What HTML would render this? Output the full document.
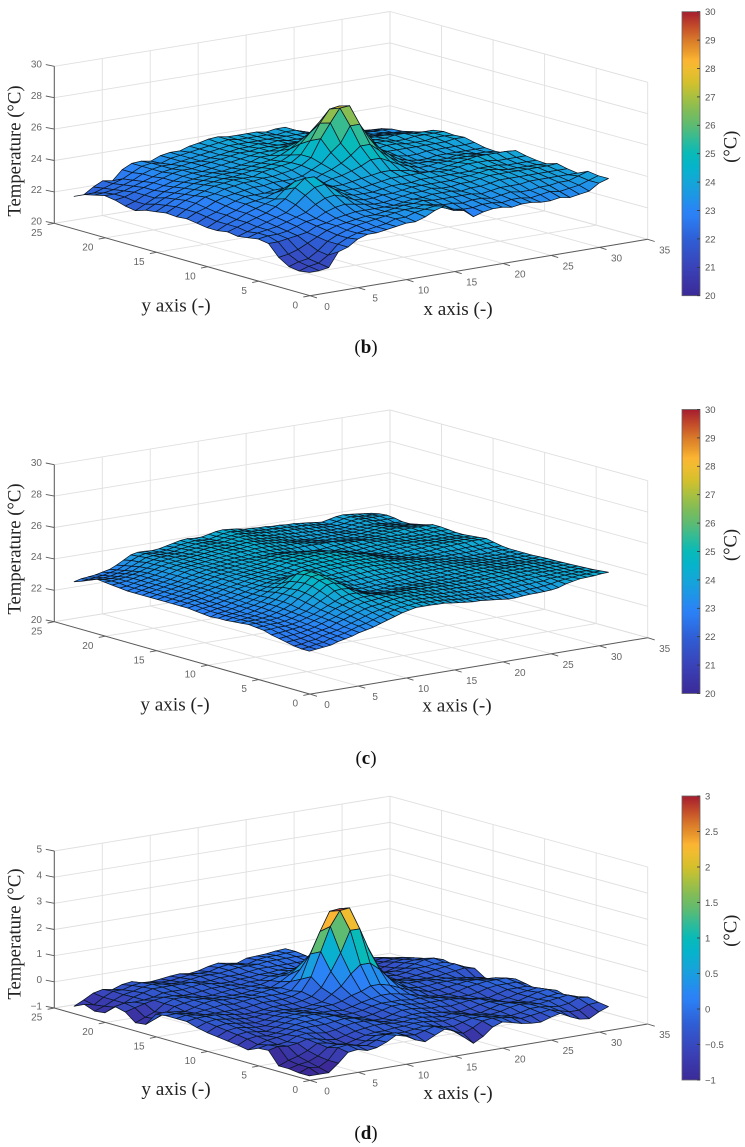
<!DOCTYPE html>
<html lang="en">
<head>
<meta charset="utf-8">
<title>Temperature surface plots</title>
<style>
html,body{margin:0;padding:0;background:#fff;width:745px;height:1147px;overflow:hidden}
svg{display:block;filter:blur(0.35px)}
.tick{font-family:"Liberation Sans",sans-serif;font-size:10px;fill:#666}
.cbtick{font-family:"Liberation Sans",sans-serif;font-size:9.5px;fill:#555}
.title{font-family:"Liberation Serif",serif;font-size:19.2px;fill:#222}
.ztitle{font-family:"Liberation Serif",serif;font-size:18.7px;fill:#222}
.cbtitle{font-family:"Liberation Serif",serif;font-size:18.5px;fill:#222}
.cap{font-family:"Liberation Serif",serif;font-size:19px;fill:#111}
</style>
</head>
<body>
<svg id="figure" xmlns="http://www.w3.org/2000/svg" width="745" height="1147" viewBox="0 0 745 1147">
<defs id="defs"></defs>
<g id="panel-b"></g>
<g id="panel-c"></g>
<g id="panel-d"></g>

<text class="ztitle" text-anchor="middle" transform="translate(20.7 151) rotate(-90)">Temperature (°C)</text>
<text class="title" text-anchor="middle" x="176" y="311.5">y axis (-)</text>
<text class="title" text-anchor="middle" x="458" y="315">x axis (-)</text>
<text class="cbtitle" text-anchor="middle" transform="translate(736.7 146.7) rotate(-90)">(°C)</text>
<text class="cap" text-anchor="middle" x="366" y="353">(<tspan font-weight="bold">b</tspan>)</text>

<text class="ztitle" text-anchor="middle" transform="translate(20.7 549) rotate(-90)">Temperature (°C)</text>
<text class="title" text-anchor="middle" x="175" y="710.7">y axis (-)</text>
<text class="title" text-anchor="middle" x="457" y="711.7">x axis (-)</text>
<text class="cbtitle" text-anchor="middle" transform="translate(736.7 545) rotate(-90)">(°C)</text>
<text class="cap" text-anchor="middle" x="366" y="764">(<tspan font-weight="bold">c</tspan>)</text>

<text class="ztitle" text-anchor="middle" transform="translate(20.7 934) rotate(-90)">Temperature (°C)</text>
<text class="title" text-anchor="middle" x="176" y="1095">y axis (-)</text>
<text class="title" text-anchor="middle" x="458" y="1099">x axis (-)</text>
<text class="cbtitle" text-anchor="middle" transform="translate(736.7 930.7) rotate(-90)">(°C)</text>
<text class="cap" text-anchor="middle" x="366" y="1139">(<tspan font-weight="bold">d</tspan>)</text>
</svg>
<script>
const xTicks = [0,5,10,15,20,25,30,35];
const yTicks = [0,5,10,15,20,25];
const zTicksTemp = [20,22,24,26,28,30];
const zTicksDelta = [-1,0,1,2,3,4,5];
const colorTicksTemp = [20,21,22,23,24,25,26,27,28,29,30];
const colorTicksDelta = [-1,-0.5,0,0.5,1,1.5,2,2.5,3];

const tempRowsB = [
[21.2,21.2,21.3,22.2,22.4,22.8,23.0,23.0,23.1,23.2,23.3,23.3,23.5,23.8,24.0,23.6,23.5,23.0,23.2,23.3,23.3,23.2,23.3,23.3,23.2,23.2,23.3,23.2,23.3,23.4,23.8,24.0],
[21.1,21.3,21.4,21.8,22.4,22.7,22.9,23.0,23.1,23.2,23.4,23.4,23.6,23.7,23.8,23.6,23.4,23.3,23.3,23.4,23.4,23.3,23.4,23.4,23.3,23.4,23.5,23.4,23.5,23.6,23.8,24.0],
[21.2,21.4,21.5,21.9,22.4,22.7,22.9,23.1,23.2,23.3,23.4,23.5,23.6,23.6,23.7,23.6,23.5,23.5,23.4,23.5,23.5,23.4,23.5,23.6,23.5,23.5,23.6,23.6,23.7,23.7,23.9,24.1],
[21.6,21.7,21.9,22.2,22.5,22.8,23.0,23.1,23.2,23.3,23.3,23.4,23.5,23.6,23.6,23.7,23.6,23.6,23.6,23.6,23.6,23.5,23.6,23.7,23.7,23.7,23.8,23.8,23.8,23.8,23.8,23.8],
[22.3,22.3,22.4,22.5,22.6,22.9,23.0,23.2,23.3,23.4,23.4,23.4,23.4,23.4,23.5,23.6,23.6,23.7,23.7,23.7,23.6,23.7,23.7,23.8,23.9,23.9,23.9,23.9,23.9,23.9,23.9,23.9],
[22.4,22.5,22.5,22.6,22.8,23.0,23.1,23.4,23.6,23.7,23.6,23.5,23.4,23.4,23.5,23.6,23.7,23.7,23.8,23.7,23.7,23.8,23.8,23.9,24.0,24.0,24.0,24.0,24.0,24.0,24.0,24.05],
[22.3,22.5,22.6,22.7,22.9,23.1,23.3,23.7,24.0,24.1,23.9,23.6,23.5,23.5,23.6,23.6,23.7,23.8,23.8,23.8,23.8,23.8,23.9,23.9,24.0,24.1,24.0,23.9,23.9,23.9,23.9,23.85],
[22.2,22.4,22.6,22.8,23.0,23.2,23.6,24.1,24.5,24.6,24.2,23.8,23.6,23.6,23.6,23.7,23.8,23.8,23.8,23.9,23.9,23.9,23.9,23.9,23.9,24.0,24.0,24.0,23.9,23.9,23.9,23.9],
[22.3,22.5,22.7,22.9,23.1,23.4,23.8,24.4,24.9,24.9,24.4,23.9,23.7,23.7,23.7,23.8,23.9,24.0,24.0,24.0,24.0,24.0,23.9,23.9,24.0,24.1,24.1,24.1,24.0,24.0,24.0,24.0],
[22.2,22.5,22.7,23.0,23.2,23.4,23.6,24.1,24.5,24.5,24.1,23.8,23.8,23.8,23.9,24.0,24.1,24.2,24.2,24.1,24.0,23.8,23.7,23.8,23.9,24.0,24.1,24.2,24.2,24.2,24.2,24.15],
[22.2,22.5,22.8,23.0,23.3,23.4,23.5,23.7,23.9,23.9,23.8,23.7,23.8,24.0,24.1,24.3,24.5,24.8,24.8,24.5,24.2,24.0,23.8,23.8,23.9,23.9,24.0,24.0,24.0,23.9,23.9,23.8],
[22.3,22.6,22.8,23.1,23.3,23.5,23.5,23.5,23.6,23.6,23.7,23.7,23.8,24.1,24.3,24.6,25.0,25.5,25.5,25.0,24.5,24.1,23.9,23.8,23.8,23.8,23.8,23.9,23.9,23.8,23.8,23.75],
[22.4,22.7,22.9,23.2,23.4,23.5,23.6,23.7,23.7,23.8,23.8,23.8,23.9,24.2,24.5,25.1,25.6,26.6,26.6,25.6,24.9,24.4,24.0,23.8,23.7,23.7,23.8,23.8,23.8,23.8,23.8,23.8],
[22.35,22.7,23.0,23.3,23.4,23.6,23.7,23.8,23.8,23.9,23.9,24.0,24.1,24.3,24.7,25.8,26.7,27.55,27.6,26.3,25.5,24.6,24.1,23.9,23.8,23.8,23.9,23.9,23.9,23.9,23.9,23.95],
[22.4,22.7,23.0,23.2,23.4,23.6,23.7,23.8,23.8,23.8,24.0,24.1,24.2,24.3,24.7,25.5,26.5,27.3,27.4,26.6,25.5,24.6,24.1,24.0,24.0,24.0,24.0,24.0,24.0,24.0,24.1,24.1],
[22.3,22.6,22.9,23.1,23.3,23.5,23.6,23.7,23.7,23.8,23.9,24.0,24.1,24.2,24.5,25.1,25.7,26.3,26.3,25.7,25.0,24.4,24.0,24.0,24.1,24.1,24.0,24.0,24.0,24.1,24.1,24.05],
[22.2,22.5,22.8,23.0,23.2,23.4,23.5,23.6,23.7,23.7,23.8,23.9,24.0,24.1,24.3,24.6,25.0,25.4,25.4,25.0,24.5,24.2,24.0,24.1,24.1,24.1,24.0,24.0,24.1,24.1,24.1,24.1],
[22.0,22.3,22.6,22.9,23.1,23.3,23.4,23.5,23.6,23.6,23.7,23.8,23.9,24.1,24.1,24.3,24.5,24.7,24.7,24.5,24.3,24.1,24.0,24.1,24.0,24.0,24.0,24.1,24.1,24.0,24.0,24.0],
[22.1,22.3,22.6,22.8,23.0,23.2,23.4,23.5,23.5,23.6,23.7,23.8,23.9,24.0,24.1,24.1,24.2,24.3,24.3,24.2,24.1,24.0,24.0,24.0,23.9,23.9,23.9,23.9,23.9,23.8,23.8,23.7],
[22.3,22.4,22.6,22.8,23.0,23.2,23.4,23.5,23.5,23.6,23.7,23.8,23.9,24.0,24.0,24.1,24.1,24.1,24.1,24.1,24.1,24.0,24.0,23.9,23.8,23.7,23.7,23.7,23.7,23.7,23.6,23.55],
[22.4,22.4,22.5,22.7,22.9,23.1,23.3,23.4,23.5,23.6,23.6,23.7,23.8,23.9,24.0,24.0,24.1,24.0,24.1,24.0,24.0,24.0,23.9,23.8,23.7,23.6,23.6,23.5,23.5,23.5,23.4,23.4],
[22.25,22.3,22.4,22.6,22.8,23.1,23.3,23.4,23.4,23.5,23.6,23.7,23.8,23.9,24.0,24.0,24.0,24.0,24.0,24.0,24.0,24.0,24.0,23.8,23.6,23.5,23.5,23.4,23.4,23.4,23.4,23.35],
[22.1,22.1,22.3,22.5,22.7,23.0,23.3,23.4,23.3,23.5,23.6,23.7,23.8,23.9,24.0,24.1,24.0,24.0,24.0,24.0,23.9,24.0,24.0,23.8,23.6,23.4,23.3,23.3,23.3,23.2,23.2,23.2],
[21.8,21.8,22.2,22.5,22.4,23.0,23.3,23.35,23.25,23.5,23.6,23.6,23.8,23.9,24.05,24.1,24.0,24.0,24.0,24.0,23.9,24.0,24.0,23.7,23.5,23.3,23.2,23.1,23.0,23.0,23.0,22.95]
];

const tempRowsC = [
[22.45,22.5,22.55,22.6,22.75,22.85,22.95,23.1,23.2,23.3,23.45,23.6,23.75,23.9,24,24.1,24.1,24.1,24.08,24.07,24,23.95,23.9,23.85,23.85,23.8,23.75,23.7,23.65,23.65,23.7,23.73,23.73,23.75,23.78,23.85,24,24.1,24.18,24.2,24.22,24.27,24.3],
[22.45,22.5,22.6,22.65,22.8,22.9,23,23.15,23.3,23.4,23.55,23.7,23.85,23.95,24.05,24.1,24.15,24.15,24.1,24.1,24.05,24,23.95,23.9,23.9,23.85,23.8,23.8,23.75,23.75,23.8,23.8,23.85,23.85,23.9,23.95,24.05,24.1,24.15,24.2,24.2,24.25,24.25],
[22.5,22.55,22.65,22.7,22.85,22.95,23.05,23.2,23.35,23.5,23.65,23.8,23.9,24,24.1,24.15,24.2,24.2,24.15,24.15,24.1,24.05,24,24,23.95,23.9,23.9,23.85,23.85,23.85,23.9,23.9,23.95,23.95,24,24,24.1,24.1,24.15,24.15,24.2,24.2,24.2],
[22.6,22.65,22.7,22.8,22.9,23,23.1,23.3,23.45,23.6,23.75,23.9,24,24.05,24.15,24.2,24.25,24.25,24.2,24.2,24.15,24.1,24.05,24.05,24,24,23.95,23.95,23.95,23.95,24,24,24,24.05,24.05,24.1,24.1,24.1,24.15,24.15,24.15,24.2,24.18],
[22.7,22.75,22.8,22.85,22.95,23.05,23.2,23.35,23.5,23.7,23.85,24,24.1,24.15,24.2,24.25,24.25,24.25,24.25,24.2,24.2,24.15,24.1,24.1,24.05,24.05,24,24,24,24,24.05,24.05,24.1,24.1,24.1,24.1,24.15,24.15,24.15,24.15,24.15,24.15,24.16],
[22.8,22.85,22.9,22.95,23,23.1,23.25,23.4,23.6,23.8,23.95,24.1,24.2,24.25,24.25,24.25,24.2,24.2,24.2,24.2,24.2,24.15,24.15,24.1,24.1,24.05,24.05,24.05,24.05,24.05,24.1,24.1,24.1,24.15,24.15,24.15,24.15,24.15,24.15,24.15,24.15,24.15,24.14],
[22.95,22.95,23,23,23.05,23.15,23.3,23.45,23.65,23.85,24.05,24.25,24.35,24.35,24.25,24.15,24.1,24.05,24.05,24.1,24.1,24.1,24.1,24.1,24.1,24.05,24.05,24.05,24.05,24.1,24.1,24.1,24.15,24.15,24.15,24.15,24.15,24.15,24.15,24.15,24.15,24.15,24.12],
[23,23,23.05,23.05,23.1,23.2,23.35,23.5,23.75,24,24.25,24.5,24.55,24.5,24.3,24.1,24,23.95,23.95,24,24,24,24.05,24.05,24.05,24.05,24.05,24.05,24.05,24.1,24.1,24.15,24.15,24.15,24.15,24.15,24.15,24.15,24.15,24.15,24.1,24.1,24.1],
[23.05,23.05,23.05,23.1,23.15,23.25,23.4,23.55,23.85,24.15,24.45,24.75,24.8,24.65,24.35,24.1,23.95,23.9,23.9,23.95,24,24,24,24,24.05,24.05,24.05,24.05,24.1,24.1,24.1,24.15,24.15,24.15,24.15,24.1,24.1,24.1,24.1,24.1,24.1,24.1,24.1],
[23,23.05,23.05,23.1,23.15,23.3,23.45,23.65,23.95,24.25,24.6,24.9,24.95,24.8,24.45,24.15,24,23.95,23.95,24,24,24.05,24.05,24.05,24.1,24.1,24.1,24.1,24.1,24.15,24.15,24.15,24.15,24.15,24.15,24.1,24.1,24.05,24.05,24.05,24.05,24.05,24.08],
[22.95,23,23.05,23.1,23.2,23.3,23.5,23.7,24,24.3,24.65,25,25.05,24.9,24.5,24.2,24.1,24,24,24.05,24.1,24.1,24.1,24.15,24.15,24.15,24.15,24.15,24.15,24.15,24.15,24.15,24.15,24.15,24.1,24.1,24.05,24.05,24.05,24.05,24.05,24.05,24.05],
[22.9,23,23.05,23.1,23.2,23.35,23.5,23.7,24,24.25,24.6,25,25.1,25,24.6,24.25,24.15,24.1,24.1,24.15,24.15,24.2,24.2,24.2,24.2,24.2,24.2,24.15,24.15,24.15,24.15,24.15,24.15,24.1,24.1,24.05,24.05,24,24,24,24,24.05,24.05],
[22.9,23,23.05,23.1,23.25,23.35,23.5,23.7,23.95,24.2,24.5,24.9,25.05,25,24.65,24.3,24.2,24.2,24.2,24.25,24.25,24.3,24.3,24.3,24.3,24.25,24.25,24.2,24.2,24.2,24.2,24.15,24.1,24.1,24.05,24.05,24,24,24,24,24,24.05,24.05],
[22.85,23,23.05,23.15,23.25,23.35,23.5,23.65,23.85,24.05,24.25,24.55,24.65,24.6,24.4,24.25,24.25,24.25,24.3,24.3,24.35,24.4,24.4,24.4,24.35,24.35,24.3,24.25,24.25,24.2,24.2,24.15,24.1,24.05,24.05,24,24,24,24,24,24.05,24.05,24.05],
[22.9,23,23.1,23.15,23.3,23.4,23.5,23.65,23.8,23.95,24.1,24.25,24.3,24.3,24.25,24.25,24.3,24.35,24.4,24.42,24.44,24.44,24.46,24.44,24.42,24.4,24.35,24.3,24.25,24.2,24.15,24.1,24.05,24.05,24.05,24.05,24.05,24.05,24.05,24.1,24.1,24.1,24.1],
[22.95,23.05,23.1,23.2,23.3,23.4,23.55,23.65,23.8,23.9,24,24.1,24.15,24.2,24.2,24.25,24.35,24.4,24.44,24.46,24.48,24.5,24.5,24.48,24.46,24.44,24.4,24.3,24.2,24.15,24.1,24.05,24.05,24.05,24.05,24.1,24.1,24.1,24.15,24.15,24.15,24.2,24.2],
[23,23.1,23.15,23.2,23.35,23.45,23.55,23.7,23.8,23.9,24,24.05,24.1,24.15,24.2,24.3,24.4,24.44,24.48,24.5,24.52,24.54,24.54,24.54,24.5,24.46,24.4,24.3,24.2,24.1,24.05,24.05,24.05,24.1,24.1,24.15,24.2,24.2,24.25,24.25,24.3,24.3,24.3],
[23,23.1,23.2,23.25,23.35,23.45,23.6,23.7,23.8,23.9,24,24.05,24.1,24.15,24.2,24.3,24.42,24.46,24.5,24.52,24.56,24.58,24.58,24.56,24.52,24.46,24.4,24.25,24.15,24.1,24.05,24.05,24.1,24.15,24.15,24.2,24.2,24.25,24.25,24.25,24.25,24.25,24.25],
[23,23.1,23.2,23.3,23.4,23.5,23.6,23.7,23.85,23.9,24,24.05,24.1,24.15,24.2,24.3,24.42,24.46,24.5,24.54,24.58,24.6,24.6,24.58,24.52,24.44,24.3,24.15,24.1,24.05,24.1,24.1,24.15,24.15,24.2,24.2,24.2,24.2,24.2,24.2,24.2,24.2,24.2],
[23,23.1,23.2,23.3,23.4,23.5,23.6,23.75,23.85,23.95,24,24.05,24.1,24.15,24.2,24.3,24.4,24.44,24.48,24.52,24.54,24.56,24.56,24.52,24.46,24.35,24.2,24.1,24.05,24.05,24.1,24.15,24.15,24.2,24.2,24.2,24.2,24.15,24.15,24.15,24.15,24.15,24.15],
[23,23.1,23.2,23.3,23.4,23.5,23.6,23.75,23.85,23.95,24,24.05,24.1,24.15,24.2,24.25,24.35,24.42,24.44,24.46,24.48,24.48,24.46,24.42,24.3,24.2,24.1,24.05,24.05,24.1,24.15,24.15,24.2,24.2,24.2,24.15,24.15,24.15,24.15,24.15,24.15,24.15,24.15],
[23,23.1,23.2,23.3,23.4,23.5,23.65,23.75,23.85,23.95,24,24.05,24.1,24.15,24.2,24.25,24.3,24.35,24.4,24.4,24.4,24.35,24.3,24.2,24.1,24.05,24.05,24.1,24.1,24.15,24.15,24.2,24.2,24.2,24.15,24.15,24.15,24.15,24.15,24.15,24.2,24.2,24.2],
[23,23.1,23.2,23.3,23.4,23.5,23.65,23.75,23.85,23.95,24,24.05,24.1,24.15,24.2,24.2,24.25,24.25,24.3,24.3,24.25,24.2,24.1,24.05,24.05,24.05,24.1,24.15,24.15,24.2,24.2,24.2,24.15,24.15,24.15,24.15,24.15,24.15,24.2,24.2,24.2,24.25,24.25],
[23,23.1,23.2,23.3,23.4,23.5,23.65,23.8,23.9,23.95,24,24.05,24.1,24.15,24.2,24.2,24.25,24.3,24.3,24.3,24.3,24.25,24.2,24.2,24.2,24.2,24.2,24.2,24.2,24.15,24.1,24.1,24.05,24.1,24.1,24.15,24.2,24.2,24.25,24.25,24.25,24.25,24.25],
[23,23.1,23.2,23.3,23.4,23.5,23.65,23.8,23.9,23.95,24,24.05,24.1,24.15,24.2,24.25,24.3,24.3,24.35,24.35,24.35,24.3,24.25,24.25,24.25,24.2,24.15,24.1,24.05,24,24,24,24,24,24.05,24.1,24.15,24.2,24.2,24.2,24.15,24.15,24.1],
[23.05,23.1,23.2,23.3,23.4,23.5,23.65,23.8,23.9,23.95,24,24.05,24.1,24.15,24.2,24.25,24.3,24.3,24.35,24.4,24.4,24.35,24.3,24.25,24.2,24.15,24.1,24.05,24,23.95,23.95,23.95,23.95,24,24,24.05,24.1,24.15,24.15,24.1,24.05,24.05,24],
[23.1,23.15,23.2,23.3,23.4,23.5,23.65,23.8,23.9,23.95,24,24.05,24.1,24.15,24.2,24.25,24.25,24.3,24.35,24.4,24.4,24.35,24.3,24.25,24.2,24.1,24.05,24,23.95,23.95,23.95,23.95,23.95,23.95,23.95,24,24.05,24.1,24.1,24.05,24,23.95,23.9],
[23.15,23.15,23.2,23.25,23.35,23.45,23.6,23.75,23.9,23.95,24,24,24.05,24.1,24.2,24.25,24.25,24.25,24.3,24.35,24.4,24.35,24.3,24.25,24.2,24.15,24.1,24.05,24,24,23.95,23.95,23.95,23.9,23.9,23.95,24,24.05,24.05,24,23.95,23.9,23.9],
[23.2,23.1,23.1,23.15,23.25,23.35,23.55,23.75,23.85,23.95,23.95,24,24,24.1,24.15,24.2,24.25,24.25,24.25,24.35,24.4,24.4,24.35,24.3,24.2,24.15,24.15,24.1,24.05,24.05,24,24,23.95,23.9,23.9,23.9,24,24.05,24.1,24.05,24,24,24],
[23,23,23,23.05,23.15,23.25,23.45,23.65,23.85,23.9,23.9,23.9,23.95,24.05,24.1,24.2,24.2,24.2,24.2,24.3,24.35,24.4,24.35,24.3,24.25,24.2,24.15,24.15,24.1,24.1,24.05,24,24,23.95,23.9,23.9,23.95,24.05,24.1,24.05,24.05,24.05,24.05],
[22.8,22.85,22.9,22.95,23.05,23.15,23.35,23.6,23.8,23.9,23.85,23.85,23.9,24,24.1,24.15,24.2,24.15,24.15,24.25,24.35,24.4,24.35,24.3,24.2,24.2,24.15,24.15,24.1,24.1,24.05,24.05,24,23.95,23.9,23.85,23.95,24.05,24.1,24.05,24,24,24],
[22.63,22.75,22.8,22.85,22.95,23.05,23.25,23.5,23.75,23.85,23.83,23.8,23.85,23.95,24.05,24.15,24.2,24.15,24.15,24.25,24.35,24.4,24.35,24.3,24.2,24.2,24.15,24.15,24.1,24.1,24.05,24.05,24,23.95,23.9,23.85,23.95,24.05,24.1,24.05,24,23.95,23.9]
];

const deltaRowsD = [
[-1,-1,-1,-.7,-.35,-.3,-.4,-.35,-.2,0,-.1,-.3,-.43,-.25,-.08,-.2,-.5,-.8,-.6,-.3,-.17,-.25,-.35,-.4,-.42,-.3,-.21,-.4,-.55,-.6,-.4,-.26],
[-1,-.85,-.9,-.7,-.28,-.23,-.33,-.38,-.23,-.08,-.08,-.23,-.28,-.18,-.08,-.18,-.38,-.53,-.38,-.18,-.13,-.18,-.23,-.33,-.28,-.23,-.18,-.28,-.38,-.38,-.23,-.2],
[-.95,-.85,-.8,-.65,-.38,-.33,-.43,-.48,-.38,-.23,-.23,-.28,-.28,-.23,-.18,-.23,-.33,-.38,-.28,-.18,-.18,-.23,-.28,-.33,-.28,-.18,-.18,-.23,-.28,-.23,-.08,-.11],
[-.95,-.8,-.7,-.55,-.33,-.38,-.48,-.53,-.43,-.33,-.28,-.28,-.23,-.23,-.18,-.18,-.23,-.28,-.23,-.18,-.23,-.28,-.33,-.28,-.18,-.13,-.18,-.23,-.18,-.13,-.08,-.2],
[-.47,-.38,-.43,-.38,-.28,-.33,-.43,-.48,-.38,-.28,-.23,-.18,-.18,-.23,-.23,-.18,-.18,-.23,-.28,-.23,-.28,-.38,-.38,-.28,-.18,-.18,-.23,-.28,-.23,-.18,-.13,-.3],
[-.5,-.43,-.48,-.43,-.28,-.23,-.28,-.33,-.28,-.18,-.13,-.13,-.18,-.28,-.28,-.23,-.18,-.18,-.23,-.28,-.33,-.38,-.33,-.23,-.18,-.23,-.33,-.33,-.23,-.13,-.08,-.18],
[-.67,-.53,-.43,-.38,-.33,-.23,-.18,-.18,-.18,-.13,-.08,-.13,-.23,-.33,-.33,-.23,-.13,-.13,-.18,-.23,-.23,-.28,-.23,-.18,-.18,-.28,-.38,-.33,-.23,-.18,-.13,-.25],
[-.6,-.43,-.38,-.43,-.38,-.28,-.18,-.13,-.13,-.08,-.08,-.18,-.28,-.33,-.28,-.18,-.08,-.08,-.13,-.18,-.18,-.18,-.18,-.23,-.28,-.33,-.38,-.28,-.18,-.18,-.18,-.34],
[-.55,-.38,-.33,-.38,-.43,-.33,-.23,-.13,-.08,-.08,-.13,-.23,-.28,-.28,-.23,-.13,-.08,-.08,-.08,-.13,-.13,-.18,-.23,-.28,-.33,-.33,-.28,-.18,-.13,-.13,-.13,-.25],
[-.5,-.33,-.28,-.33,-.38,-.38,-.28,-.18,-.13,-.13,-.18,-.23,-.23,-.28,-.2,-.1,-.02,.05,.05,-.02,-.1,-.2,-.28,-.33,-.33,-.28,-.18,-.13,-.08,-.08,-.08,-.18],
[-.45,-.28,-.23,-.28,-.33,-.38,-.33,-.23,-.18,-.18,-.23,-.23,-.18,-.18,-.1,.05,.15,.3,.3,.2,.05,-.1,-.18,-.28,-.28,-.23,-.18,-.13,-.13,-.18,-.18,-.35],
[-.37,-.23,-.18,-.23,-.28,-.33,-.33,-.28,-.23,-.23,-.28,-.28,-.23,-.18,.05,.3,.7,1,1,.7,.3,0,-.18,-.23,-.23,-.18,-.18,-.18,-.23,-.28,-.33,-.5],
[-.25,-.18,-.18,-.18,-.23,-.28,-.33,-.33,-.28,-.23,-.23,-.23,-.18,-.08,.2,.75,1.4,2.2,2.2,1.3,.6,.15,-.08,-.18,-.18,-.18,-.23,-.23,-.28,-.33,-.38,-.45],
[-.25,-.18,-.23,-.28,-.28,-.28,-.28,-.28,-.23,-.18,-.18,-.18,-.13,0,.5,1.4,2.3,2.85,2.89,1.9,1.2,.4,-.08,-.18,-.23,-.28,-.28,-.28,-.23,-.18,-.13,-.2],
[-.25,-.23,-.28,-.33,-.28,-.23,-.18,-.23,-.18,-.13,-.13,-.13,-.13,-.08,.3,1.2,2,2.71,2.75,2,1.2,.3,-.08,-.23,-.33,-.33,-.28,-.23,-.18,-.13,-.08,-.25],
[-.3,-.28,-.33,-.38,-.28,-.18,-.13,-.18,-.18,-.18,-.18,-.13,-.08,-.08,.1,.5,1,1.6,1.6,1,.4,.05,-.08,-.18,-.28,-.33,-.28,-.18,-.18,-.13,-.13,-.3],
[-.8,-.65,-.5,-.3,-.23,-.18,-.18,-.23,-.23,-.23,-.23,-.18,-.13,-.18,-.02,.2,.5,.8,.8,.5,.15,-.02,-.18,-.23,-.28,-.33,-.33,-.28,-.18,-.08,-.08,-.2],
[-.85,-.7,-.55,-.3,-.18,-.18,-.23,-.28,-.28,-.23,-.18,-.18,-.18,-.18,-.08,.02,.1,.15,.15,.1,.02,-.08,-.18,-.23,-.38,-.48,-.48,-.38,-.25,-.2,-.2,-.3],
[-.55,-.45,-.35,-.28,-.23,-.23,-.28,-.28,-.23,-.18,-.18,-.18,-.23,-.18,-.18,-.08,-.08,0,0,-.08,-.18,-.18,-.18,-.23,-.43,-.55,-.55,-.45,-.33,-.28,-.28,-.4],
[-.45,-.38,-.4,-.38,-.33,-.23,-.23,-.23,-.18,-.13,-.18,-.23,-.23,-.18,-.18,-.13,-.13,-.08,-.08,-.13,-.13,-.13,-.18,-.28,-.48,-.6,-.6,-.5,-.43,-.38,-.38,-.5],
[-.8,-.65,-.55,-.38,-.28,-.18,-.18,-.18,-.18,-.18,-.23,-.23,-.18,-.18,-.18,-.13,-.08,-.08,-.08,-.08,-.08,-.08,-.13,-.28,-.48,-.55,-.55,-.55,-.5,-.45,-.5,-.6],
[-.85,-.72,-.55,-.4,-.33,-.23,-.18,-.23,-.28,-.28,-.23,-.18,-.18,-.18,-.13,-.08,-.08,-.08,-.03,-.03,-.03,-.02,-.05,-.28,-.45,-.5,-.55,-.55,-.55,-.55,-.6,-.68],
[-.7,-.78,-.55,-.38,-.38,-.28,-.23,-.28,-.33,-.33,-.28,-.23,-.23,-.23,-.13,-.08,-.13,-.18,-.08,-.03,-.03,0,0,-.25,-.42,-.5,-.55,-.6,-.65,-.65,-.72,-.8],
[-.88,-.7,-.5,-.42,-.48,-.35,-.3,-.4,-.42,-.38,-.33,-.3,-.35,-.3,-.2,-.13,-.2,-.25,-.12,-.1,-.08,-.03,0,-.25,-.45,-.55,-.6,-.65,-.7,-.75,-.85,-.92]
];

const colormapStops = [[0,'#3b2a98'],[.1,'#3a42b8'],[.2,'#2f5fd6'],[.28,'#2b7ff5'],[.3,'#2a84f5'],[.35,'#1d96e6'],[.4,'#14a6d8'],[.45,'#06b3cc'],[.5,'#08bab8'],[.55,'#30bb98'],[.6,'#5dbb72'],[.65,'#80bc58'],[.7,'#a8c040'],[.75,'#d4c02c'],[.8,'#f0bc30'],[.83,'#fcb432'],[.86,'#ea9a2c'],[.9,'#d97a2a'],[.95,'#c24a2a'],[1,'#a51c2e']];

const SVGNS = 'http://www.w3.org/2000/svg';
const X_MAX = 35, Y_MAX = 25, WALL_H = 157;
const F = [310,295.7], L = [54.3,223.3], R = [647.7,239.3], B = [390,168.5];

function hexRgb(h){return [parseInt(h.substr(1,2),16),parseInt(h.substr(3,2),16),parseInt(h.substr(5,2),16)];}
function colormap(t){
  t = Math.max(0,Math.min(1,t));
  for(let k=1;k<colormapStops.length;k++){
    if(t<=colormapStops[k][0]){
      const a=colormapStops[k-1],b=colormapStops[k];
      const f=(t-a[0])/(b[0]-a[0]);
      const ca=hexRgb(a[1]),cb=hexRgb(b[1]);
      return 'rgb('+ca.map((v,n)=>Math.round(v+(cb[n]-v)*f)).join(',')+')';
    }
  }
  return colormapStops[colormapStops.length-1][1];
}
function line(g,a,b,stroke,w,name){
  const el=document.createElementNS(SVGNS,'line');
  el.setAttribute('x1',a[0].toFixed(2));
  el.setAttribute('y1',a[1].toFixed(2));
  el.setAttribute('x2',b[0].toFixed(2));
  el.setAttribute('y2',b[1].toFixed(2));
  el.setAttribute('stroke',stroke);
  el.setAttribute('stroke-width',w);
  
  
  g.appendChild(el);
}
function label(g,x,y,str,anchor,cls,name){
  const el=document.createElementNS(SVGNS,'text');
  el.setAttribute('x',x.toFixed(1));
  el.setAttribute('y',y.toFixed(1));
  el.setAttribute('text-anchor',anchor);
  el.setAttribute('class',cls);
  
  
  el.textContent=String(str).replace('-','\u2212');
  g.appendChild(el);
}
function drawPanel(id,dy,rows,zTicks,colorTicks,cbTop,cMin,cMax,gradId){
  const g=document.getElementById(id);
  const zMin=zTicks[0], zMax=zTicks[zTicks.length-1];
  const project=function(x,y,z){
    const u=x/X_MAX, v=y/Y_MAX;
    const px=(1-u)*(1-v)*F[0]+u*(1-v)*R[0]+(1-u)*v*L[0]+u*v*B[0];
    const py=(1-u)*(1-v)*F[1]+u*(1-v)*R[1]+(1-u)*v*L[1]+u*v*B[1];
    return [px,py+dy-(z-zMin)/(zMax-zMin)*WALL_H];
  };
  const grid='#dfdfdf';
  zTicks.forEach(function(z){
    line(g,project(0,Y_MAX,z),project(X_MAX,Y_MAX,z),grid,0.9,'z-gridline-back-wall');
    line(g,project(X_MAX,Y_MAX,z),project(X_MAX,0,z),grid,0.9,'z-gridline-side-wall');
  });
  xTicks.forEach(function(x){
    line(g,project(x,0,zMin),project(x,Y_MAX,zMin),grid,0.9,'x-gridline-floor');
    line(g,project(x,Y_MAX,zMin),project(x,Y_MAX,zMax),grid,0.9,'x-gridline-wall');
  });
  yTicks.forEach(function(y){
    line(g,project(0,y,zMin),project(X_MAX,y,zMin),grid,0.9,'y-gridline-floor');
    line(g,project(X_MAX,y,zMin),project(X_MAX,y,zMax),grid,0.9,'y-gridline-wall');
  });
  const axis='#5a5a5a';
  line(g,project(0,Y_MAX,zMin),project(0,Y_MAX,zMax),axis,1,'z-axis-line');
  line(g,project(0,0,zMin),project(0,Y_MAX,zMin),axis,1,'y-axis-line');
  line(g,project(0,0,zMin),project(X_MAX,0,zMin),axis,1,'x-axis-line');
  zTicks.forEach(function(z){
    const p=project(0,Y_MAX,z);
    line(g,p,[p[0]-8.5,p[1]-1.7],axis,0.9,'z-tick');
    label(g,42,p[1]+1.3,z,'end','tick','z-tick-label');
  });
  yTicks.forEach(function(y){
    const p=project(0,y,zMin);
    line(g,p,[p[0]-6.7,p[1]+1.3],axis,0.9,'y-tick');
    label(g,p[0]-12,p[1]+12.6,y,'end','tick','y-tick-label');
  });
  xTicks.forEach(function(x){
    const p=project(x,0,zMin);
    line(g,p,[p[0]+7,p[1]+2.2],axis,0.9,'x-tick');
    label(g,p[0]+17,p[1]+14.1,x,'middle','tick','x-tick-label');
  });
  const nj=rows.length, ni=rows[0].length;
  const xAt=function(i){return 1+i*31/(ni-1);};
  const yAt=function(j){return 1+j*23/(nj-1);};
  const mesh=document.createElementNS(SVGNS,'g');
  
  
  mesh.setAttribute('stroke','#0c1622');
  mesh.setAttribute('stroke-width','0.75');
  mesh.setAttribute('stroke-linejoin','round');
  g.appendChild(mesh);
  for(let j=nj-2;j>=0;j--){
    const cols=Math.min(rows[j].length,rows[j+1].length);
    for(let i=cols-2;i>=0;i--){
      const pts=[
        project(xAt(i),yAt(j),rows[j][i]),
        project(xAt(i+1),yAt(j),rows[j][i+1]),
        project(xAt(i+1),yAt(j+1),rows[j+1][i+1]),
        project(xAt(i),yAt(j+1),rows[j+1][i])
      ];
      const poly=document.createElementNS(SVGNS,'polygon');
      poly.setAttribute('points',pts.map(function(p){return p[0].toFixed(1)+','+p[1].toFixed(1);}).join(' '));
      poly.setAttribute('fill',colormap((rows[j][i]-cMin)/(cMax-cMin)));
      
      
      mesh.appendChild(poly);
    }
  }
  const cbH=284, cbX=682, cbW=18;
  const bar=document.createElementNS(SVGNS,'rect');
  bar.setAttribute('x',cbX);
  bar.setAttribute('y',cbTop);
  bar.setAttribute('width',cbW);
  bar.setAttribute('height',cbH);
  bar.setAttribute('fill','url(#'+gradId+')');
  bar.setAttribute('stroke','#666');
  bar.setAttribute('stroke-width','0.8');
  
  
  g.appendChild(bar);
  colorTicks.forEach(function(v){
    const y=cbTop+cbH-(v-cMin)/(cMax-cMin)*cbH;
    line(g,[cbX+cbW-3,y],[cbX+cbW,y],'#333',0.8,'colorbar-tick');
    label(g,705,y+3.4,v,'start','cbtick','colorbar-tick-label');
  });
}
(function(){
  const defs=document.getElementById('defs');
  const grad=document.createElementNS(SVGNS,'linearGradient');
  grad.setAttribute('id','cmapGrad');
  grad.setAttribute('x1','0');
  grad.setAttribute('y1','1');
  grad.setAttribute('x2','0');
  grad.setAttribute('y2','0');
  colormapStops.forEach(function(s){
    const st=document.createElementNS(SVGNS,'stop');
    st.setAttribute('offset',s[0]);
    st.setAttribute('stop-color',s[1]);
    grad.appendChild(st);
  });
  defs.appendChild(grad);
  drawPanel('panel-b',0,tempRowsB,zTicksTemp,colorTicksTemp,11.7,20,30,'cmapGrad');
  drawPanel('panel-c',398.4,tempRowsC,zTicksTemp,colorTicksTemp,409.5,20,30,'cmapGrad');
  drawPanel('panel-d',784.7,deltaRowsD,zTicksDelta,colorTicksDelta,796,-1,3,'cmapGrad');
})();
</script>
</body>
</html>
